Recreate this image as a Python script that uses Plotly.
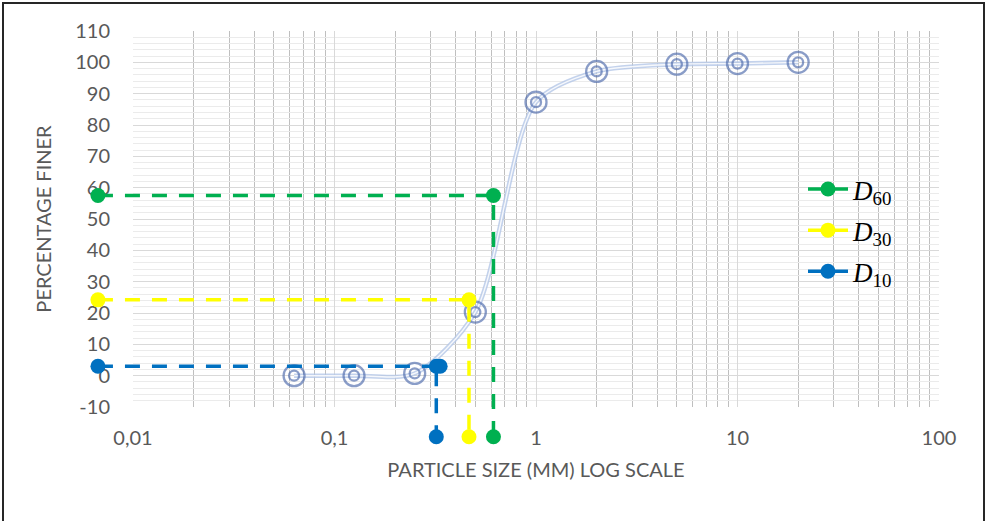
import plotly.graph_objects as go

# ---- data ----
sieve_mm = [0.063, 0.125, 0.25, 0.5, 1, 2, 5, 10, 20]
pct_finer = [0, 0, 0.7, 20.3, 87.3, 97.1, 99.4, 99.6, 100]

x_left = 0.0067          # left end of the D-lines (outside the axis)
y_bottom = -19.5         # bottom end of the D-lines (outside the axis)

d60_x, d60_y = 0.615, 57.5
d30_x, d30_y = 0.465, 24.2
d10_x, d10_y = 0.32, 3.0

x_tickvals = [0.01, 0.1, 1, 10, 100]
x_ticktext = ["0,01", "0,1", "1", "10", "100"]
y_tickvals = list(range(-10, 111, 10))
y_ticktext = [str(v).replace("-", "-") for v in y_tickvals]

# ---- geometry (pixels) ----
W, H = 989, 521
L, R, T, B = 133, 939, 31, 407      # main plot area
ML, MB = 80, 465                     # outer (secondary) area left/bottom
pw, ph = R - ML, MB - T
dec = (R - L) / 4.0
unit = (B - T) / 120.0
x2_lo = -2 - (L - ML) / dec
y2_lo = -10 - (MB - B) / unit

GREY = "#595959"
FONT = "Lato"

fig = go.Figure()

# curve (double line look)
fig.add_trace(go.Scatter(x=sieve_mm, y=pct_finer, mode="lines",
                         line=dict(shape="spline", smoothing=0.8, color="rgba(180,199,231,0.8)", width=4.5),
                         showlegend=False, hoverinfo="skip"))
fig.add_trace(go.Scatter(x=sieve_mm, y=pct_finer, mode="lines",
                         line=dict(shape="spline", smoothing=0.8, color="rgba(255,255,255,0.85)", width=1.4),
                         showlegend=False, hoverinfo="skip"))
# double-circle markers
fig.add_trace(go.Scatter(x=sieve_mm, y=pct_finer, mode="markers",
                         marker=dict(symbol="circle-open", size=21, color="rgba(75,104,170,0.65)",
                                     line=dict(width=2.3)),
                         showlegend=False, cliponaxis=False))
fig.add_trace(go.Scatter(x=sieve_mm, y=pct_finer, mode="markers",
                         marker=dict(symbol="circle-open", size=10, color="rgba(75,104,170,0.65)",
                                     line=dict(width=2.3)),
                         showlegend=False, cliponaxis=False))

# D-lines on the wider secondary axes
def dline(xd, yd, color, name, xs=None):
    xs = xs if xs is not None else [x_left, xd, xd]
    ys = [yd] * (len(xs) - 1) + [y_bottom]
    fig.add_trace(go.Scatter(x=xs, y=ys, xaxis="x2", yaxis="y2", mode="lines+markers",
                             line=dict(color=color, width=3.5, dash="15px,12px"),
                             marker=dict(color=color, size=15),
                             name=name, legendgroup=name, cliponaxis=False))

dline(d60_x, d60_y, "#00b050", "<i>D</i><sub>60</sub>")
dline(d30_x, d30_y, "#ffff00", "<i>D</i><sub>30</sub>")
dline(d10_x, d10_y, "#0070c0", "<i>D</i><sub>10</sub>", xs=[x_left, d10_x * 1.045, d10_x, d10_x])

fig.update_layout(
    width=W, height=H,
    margin=dict(l=ML, r=W - R, t=T, b=H - MB, pad=0, autoexpand=False),
    paper_bgcolor="white", plot_bgcolor="rgba(0,0,0,0)",
    font=dict(family=FONT, color=GREY),
    separators=",.",
    xaxis=dict(type="log", range=[-2, 2], domain=[(L - ML) / pw, 1],
               tickmode="array", tickvals=x_tickvals, ticktext=x_ticktext,
               tickfont=dict(size=20, color=GREY), ticklabelstandoff=17,
               showgrid=True, gridcolor="#d9d9d9", gridwidth=1.3,
               minor=dict(tickmode="array",
                          tickvals=[m * 10 ** e for e in range(-2, 2) for m in range(2, 10)],
                          showgrid=True, gridcolor="#bfbfbf", gridwidth=1.3),
               zeroline=False, showline=False, ticks="", automargin=False,
               title=dict(text="PARTICLE SIZE (MM) LOG SCALE", font=dict(size=20, color=GREY), standoff=14),
               anchor="y"),
    yaxis=dict(range=[-10, 110], domain=[(MB - B) / ph, 1],
               tickmode="array", tickvals=y_tickvals, ticktext=y_ticktext,
               tickfont=dict(size=20, color=GREY), ticklabelstandoff=22,
               showgrid=True, gridcolor="#d9d9d9", gridwidth=1.3,
               minor=dict(dtick=2, showgrid=True, gridcolor="#ebebeb", gridwidth=1),
               zeroline=False, showline=False, ticks="", automargin=False,
               title=dict(text="PERCENTAGE FINER", font=dict(size=20, color=GREY), standoff=18),
               anchor="x"),
    xaxis2=dict(type="log", range=[x2_lo, 2], domain=[0, 1], visible=False, anchor="y2", automargin=False),
    yaxis2=dict(range=[y2_lo, 110], domain=[0, 1], visible=False, anchor="x2", automargin=False),
    legend=dict(x=(803 - ML) / pw, y=(MB - 165) / ph, xanchor="left", yanchor="top",
                bgcolor="rgba(0,0,0,0)", font=dict(family="Liberation Serif", size=27, color="black"),
                itemwidth=40, tracegroupgap=3),
    showlegend=True,
)

# outer frame
fig.add_shape(type="rect", xref="paper", yref="paper",
              x0=(3 - ML) / pw, x1=(984 - ML) / pw, y0=(MB - 530) / ph, y1=(MB - 3) / ph,
              line=dict(color="#262626", width=2), layer="above")

fig.write_html("out.html", config={"displayModeBar": False},
               post_script="document.body.style.margin='0';document.body.style.overflow='hidden';")
